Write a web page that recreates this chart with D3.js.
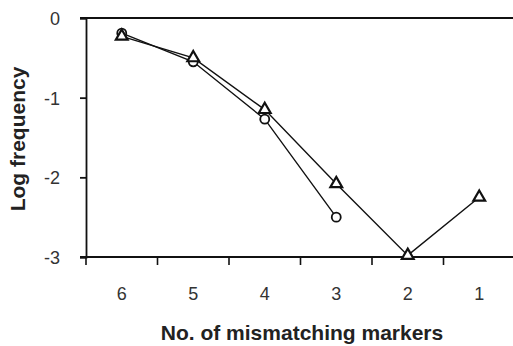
<!DOCTYPE html>
<html>
<head>
<meta charset="utf-8">
<script src="https://cdn.jsdelivr.net/npm/d3@7"></script>
<style>
  body { margin: 0; background: #fff; }
  svg { display: block; font-family: "Liberation Sans", Arial, sans-serif; }
</style>
</head>
<body>
<svg width="513" height="346"></svg>
<script>
const svg = d3.select("svg");

const width = 513;
const height = 346;

// data
const categories = ["6", "5", "4", "3", "2", "1"];
const circleValues = [-0.19, -0.55, -1.27, -2.5, null, null];
const triangleValues = [-0.23, -0.5, -1.15, -2.08, -2.98, -2.25];
const yTicks = [0, -1, -2, -3];

const plotLeft = 86, plotTop = 18, plotBottom = 257;

const x = d3.scaleBand()
    .domain(categories)
    .range([plotLeft, plotLeft + 6 * 71.5]);

const y = d3.scaleLinear()
    .domain([-3, 0])
    .range([plotBottom, plotTop]);

const ink = "#111";

// top line at 0
svg.append("line")
    .attr("x1", plotLeft - 6).attr("x2", width)
    .attr("y1", y(0)).attr("y2", y(0))
    .attr("stroke", ink).attr("stroke-width", 1.8);

// y axis
const yAxis = svg.append("g")
    .attr("transform", `translate(${plotLeft},0)`)
    .call(d3.axisLeft(y).tickValues(yTicks).tickSize(6).tickPadding(20)
        .tickFormat(d => String(d)));
yAxis.select(".domain").attr("stroke", ink).attr("stroke-width", 1.8);
yAxis.selectAll(".tick line").attr("stroke", ink).attr("stroke-width", 1.8);
yAxis.selectAll(".tick text")
    .attr("fill", "#333")
    .style("font-size", "18px")
    .attr("dy", "0.36em");

// x axis line
svg.append("line")
    .attr("x1", plotLeft - 6).attr("x2", width)
    .attr("y1", plotBottom).attr("y2", plotBottom)
    .attr("stroke", ink).attr("stroke-width", 1.8);

// x ticks on band edges
svg.selectAll(".xtick")
    .data(categories)
    .enter()
    .append("line")
    .attr("class", "xtick")
    .attr("x1", d => x(d)).attr("x2", d => x(d))
    .attr("y1", plotBottom).attr("y2", plotBottom + 8)
    .attr("stroke", ink).attr("stroke-width", 1.6);

// x labels centred in bands
svg.selectAll(".xlabel")
    .data(categories)
    .enter()
    .append("text")
    .attr("class", "xlabel")
    .attr("x", d => x(d) + x.bandwidth() / 2)
    .attr("y", 300)
    .attr("text-anchor", "middle")
    .attr("fill", "#333")
    .style("font-size", "18px")
    .text(d => d);

const cx = d => x(d) + x.bandwidth() / 2;

const circleData = categories.map((c, i) => ({ c: c, v: circleValues[i] })).filter(d => d.v !== null);
const triData = categories.map((c, i) => ({ c: c, v: triangleValues[i] }));

const line = d3.line()
    .x(d => cx(d.c))
    .y(d => y(d.v));

svg.append("path")
    .datum(circleData)
    .attr("d", line)
    .attr("fill", "none")
    .attr("stroke", ink)
    .attr("stroke-width", 1.4);

svg.append("path")
    .datum(triData)
    .attr("d", line)
    .attr("fill", "none")
    .attr("stroke", ink)
    .attr("stroke-width", 1.4);

svg.selectAll(".circ")
    .data(circleData)
    .enter()
    .append("circle")
    .attr("class", "circ")
    .attr("cx", d => cx(d.c))
    .attr("cy", d => y(d.v))
    .attr("r", 4.5)
    .attr("fill", "#fff")
    .attr("stroke", ink)
    .attr("stroke-width", 1.8);

const tri = d3.symbol().type(d3.symbolTriangle).size(60);

svg.selectAll(".tri")
    .data(triData)
    .enter()
    .append("path")
    .attr("class", "tri")
    .attr("transform", d => `translate(${cx(d.c)},${y(d.v)})`)
    .attr("d", tri)
    .attr("fill", "#fff")
    .attr("stroke", ink)
    .attr("stroke-width", 2.2);

// axis titles
svg.append("text")
    .attr("x", 302)
    .attr("y", 340)
    .attr("text-anchor", "middle")
    .attr("fill", "#222")
    .style("font-size", "21px")
    .style("font-weight", "bold")
    .text("No. of mismatching markers");

svg.append("text")
    .attr("transform", "rotate(-90)")
    .attr("x", -139)
    .attr("y", 25)
    .attr("text-anchor", "middle")
    .attr("fill", "#222")
    .style("font-size", "21px")
    .style("font-weight", "bold")
    .text("Log frequency");
</script>
</body>
</html>
